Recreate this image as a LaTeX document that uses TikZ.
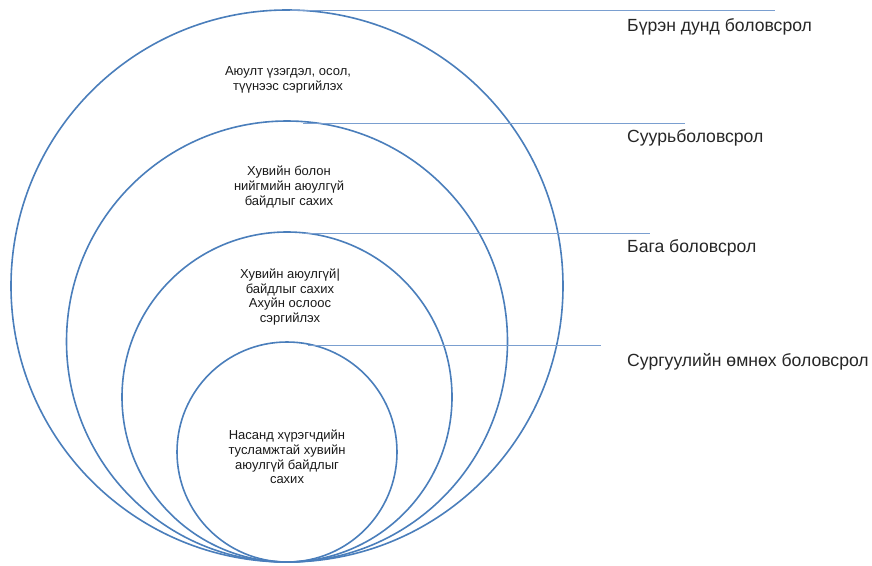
\documentclass[tikz,border=0pt]{standalone}
\usepackage{fontspec}
\setmainfont{Liberation Sans}
\definecolor{circ}{HTML}{4A7EBB}
\definecolor{ln}{HTML}{7A9FD0}
\begin{document}
\begin{tikzpicture}[x=1pt,y=-1pt,
  ring/.style={draw=circ, line width=1.6pt, circle, inner sep=0pt, outer sep=0pt},
  lead/.style={draw=ln, line width=1pt},
  inner/.style={font=\fontsize{13}{14.8}\selectfont, align=center, text=black!90},
  lbl/.style={font=\fontsize{17.6}{20}\selectfont, anchor=west, text=black!85, inner sep=0pt}]
\useasboundingbox (0,0) rectangle (872,565);
\node[ring, minimum size=552pt] (c1) at (287,286) {};
\node[ring, minimum size=441pt] (c2) at (287,341.5) {};
\node[ring, minimum size=330pt] (c3) at (287,397) {};
\node[ring, minimum size=220pt] (c4) at (287,452) {};
\coordinate (s1) at (290,10);   \coordinate (e1) at (775,10);
\coordinate (s2) at (303,123);  \coordinate (e2) at (685,123);
\coordinate (s3) at (305,233);  \coordinate (e3) at (650,233);
\coordinate (s4) at (308,345);  \coordinate (e4) at (601,345);
\draw[lead] (s1) -- (e1);
\draw[lead] (s2) -- (e2);
\draw[lead] (s3) -- (e3);
\draw[lead] (s4) -- (e4);
\node[lbl] (l1) at (627,27) {Бүрэн дунд боловсрол};
\node[lbl] (l2) at (627,138) {Суурьболовсрол};
\node[lbl] (l3) at (627,248) {Бага боловсрол};
\node[lbl] (l4) at (627,362) {Сургуулийн өмнөх боловсрол};
\node[inner] (t1) at (288,80) {Аюулт үзэгдэл, осол,\\түүнээс сэргийлэх};
\node[inner] (t2) at (289,187) {Хувийн болон\\нийгмийн аюулгүй\\байдлыг сахих};
\node[inner] (t3) at (290,297) {Хувийн аюулгүй|\\байдлыг сахих\\Ахуйн ослоос\\сэргийлэх};
\node[inner] (t4) at (287,457) {Насанд хүрэгчдийн\\тусламжтай хувийн\\аюулгүй байдлыг\\сахих};
\end{tikzpicture}
\end{document}
